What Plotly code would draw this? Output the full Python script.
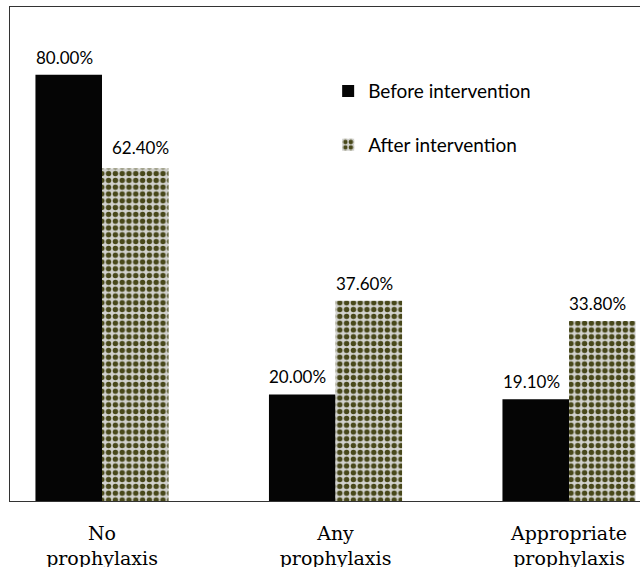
import plotly.graph_objects as go

categories = ["No<br>prophylaxis", "Any<br>prophylaxis", "Appropriate<br>prophylaxis"]
series_names = ["Before intervention", "After intervention"]
before_values = [80.0, 20.0, 19.1]
after_values = [62.4, 37.6, 33.8]
before_labels = ["80.00%", "20.00%", "19.10%"]
after_labels = ["62.40%", "37.60%", "33.80%"]

x_pos = list(range(len(categories)))

fig = go.Figure()
fig.add_trace(go.Bar(
    x=x_pos, y=before_values, name=series_names[0], legendgroup="a",
    marker=dict(color="#050505", line=dict(width=0)),
    hoverinfo="skip",
))
fig.add_trace(go.Bar(
    x=x_pos, y=after_values, name=series_names[1], legendgroup="b",
    marker=dict(color="#d0d0cc",
                pattern=dict(shape=".", fgcolor="#48481a", bgcolor="#d2d2ce",
                             size=6.8, solidity=0.5, fillmode="replace"),
                line=dict(width=0)),
    hoverinfo="skip",
))

label_font = dict(family="Lato", size=17, color="#000000")
half = 0.285 / 2
for i, (v, t) in enumerate(zip(before_values, before_labels)):
    fig.add_annotation(x=x_pos[i] - half, y=v, text=t, showarrow=False,
                       xanchor="center", yanchor="bottom", xshift=-4.5, yshift=5,
                       font=label_font)
for i, (v, t) in enumerate(zip(after_values, after_labels)):
    fig.add_annotation(x=x_pos[i] + half, y=v, text=t, showarrow=False,
                       xanchor="center", yanchor="bottom", xshift=-4.5 if i else 5,
                       yshift=5 if i else 8,
                       font=label_font)

fig.update_layout(
    width=640, height=567,
    margin=dict(l=10, r=0, t=7, b=66),
    paper_bgcolor="white", plot_bgcolor="white",
    barmode="group", bargap=0.43, bargroupgap=0,
    showlegend=True,
    legend=dict(x=0.505, y=0.868, xanchor="left", yanchor="top",
                bgcolor="rgba(0,0,0,0)", font=dict(family="Lato", size=19, color="#000000"),
                tracegroupgap=26, traceorder="grouped"),
    xaxis=dict(range=[-0.394, 2.304], tickmode="array", tickvals=x_pos, ticktext=categories,
               showline=True, linecolor="#333333", linewidth=1.2, mirror=True,
               showgrid=False, zeroline=False, ticks="", automargin=False,
               ticklabelstandoff=15,
               tickfont=dict(family="DejaVu Serif", size=19, color="#000000")),
    yaxis=dict(range=[0, 92.7], showline=True, linecolor="#333333", linewidth=1.2,
               mirror=False, showgrid=False, zeroline=False, showticklabels=False,
               ticks="", automargin=False),
)

fig.write_html("out.html",
               config={"displayModeBar": False},
               post_script="document.documentElement.style.margin='0';document.body.style.margin='0';document.body.style.padding='0';")
